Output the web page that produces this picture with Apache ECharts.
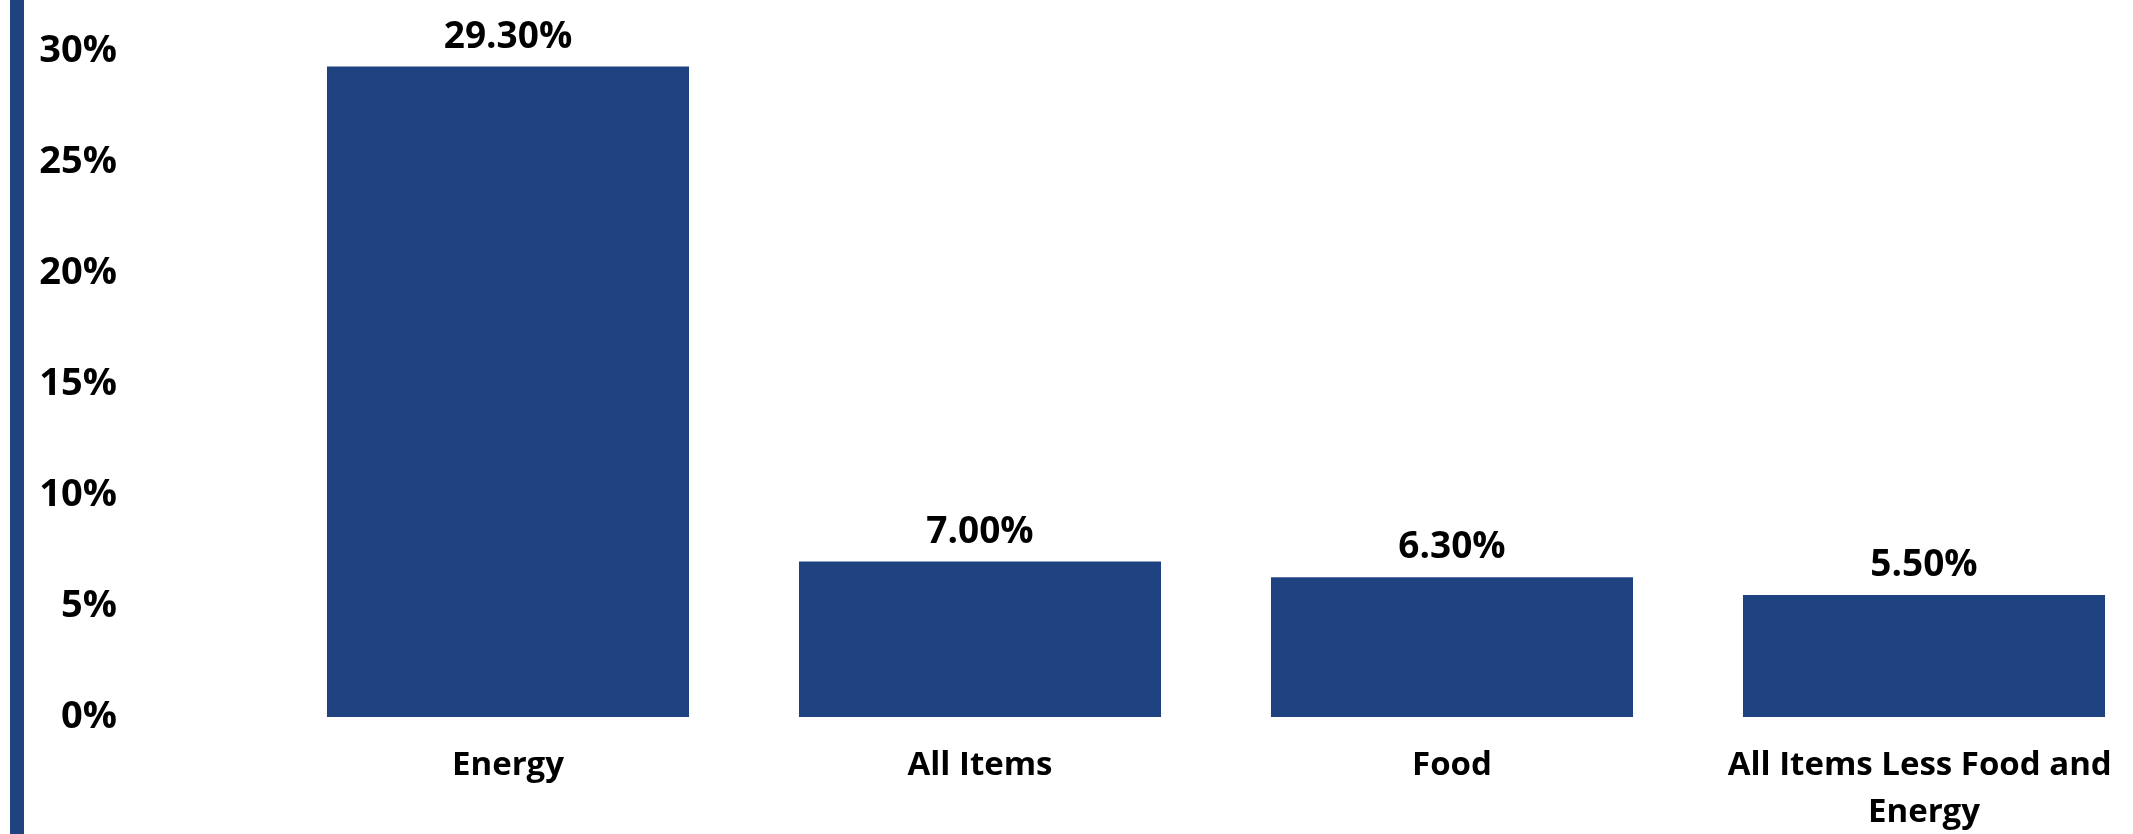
<!DOCTYPE html>
<html>
<head>
<meta charset="utf-8">
<script src="https://cdn.jsdelivr.net/npm/echarts@6/dist/echarts.min.js"></script>
<style>
html,body{margin:0;padding:0;background:#fff;}
#c{width:2133px;height:834px;}
</style>
</head>
<body>
<div id="c"></div>
<script>
const categories = ["Energy", "All Items", "Food", "All Items Less Food and Energy"];
const values = [29.3, 7.0, 6.3, 5.5];
const yTicks = { min: 0, max: 30, interval: 5 };

const FONT = "'Open Sans', 'Noto Sans', sans-serif";
const BLUE = "#1F4381";

const chart = echarts.init(document.getElementById('c'), null, {renderer: 'canvas'});
chart.setOption({
  backgroundColor: '#ffffff',
  animation: false,
  graphic: [{
    type: 'rect',
    shape: {x: 10, y: 0, width: 14, height: 834},
    style: {fill: BLUE}
  }],
  grid: {left: 272, right: -27, top: 51, bottom: 117, containLabel: false, outerBoundsMode: 'none'},
  xAxis: {
    type: 'category',
    data: categories,
    axisLine: {show: false},
    axisTick: {show: false},
    axisLabel: {
      interval: 0,
      margin: 25,
      color: '#000',
      fontFamily: FONT,
      fontWeight: 'bold',
      fontSize: 33,
      lineHeight: 47,
      width: 430,
      overflow: 'break'
    }
  },
  yAxis: {
    type: 'value',
    min: yTicks.min,
    max: yTicks.max,
    interval: yTicks.interval,
    splitLine: {show: false},
    axisLine: {show: false},
    axisTick: {show: false},
    axisLabel: {
      margin: 155,
      color: '#000',
      fontFamily: FONT,
      fontWeight: 'bold',
      fontSize: 38,
      formatter: v => v + '%'
    }
  },
  series: [{
    type: 'bar',
    data: values,
    barCategoryGap: '23.3%',
    itemStyle: {color: BLUE},
    label: {
      show: true,
      position: 'top',
      distance: 11,
      color: '#000',
      fontFamily: FONT,
      fontWeight: 'bold',
      fontSize: 37,
      formatter: p => p.value.toFixed(2) + '%'
    }
  }]
});
</script>
</body>
</html>
